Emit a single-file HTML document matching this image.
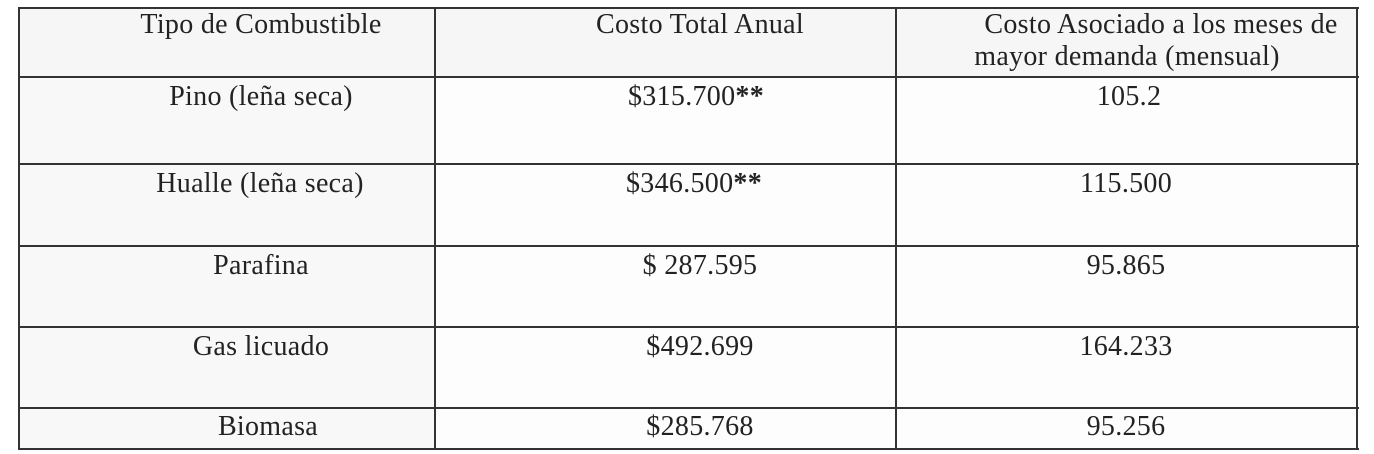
<!DOCTYPE html>
<html><head><meta charset="utf-8"><style>
body{margin:0;width:1374px;height:454px;background:#fff;position:relative;overflow:hidden;font-family:"Liberation Serif",serif;color:#222}
.h{position:absolute;background:#333}
.t{position:absolute;font-size:28px;letter-spacing:0.3px;line-height:30px;white-space:nowrap;transform:translateX(-50%)}
</style></head><body>
<div style="position:absolute;left:18px;top:7px;width:1339px;height:70px;background:#f6f6f6"></div>
<div style="position:absolute;left:18px;top:77px;width:417px;height:372px;background:#f8f8f8"></div>
<div style="position:absolute;left:435px;top:77px;width:922px;height:372px;background:#fdfdfd"></div>
<div class="h" style="left:18px;top:7px;width:1341px;height:2px"></div>
<div class="h" style="left:18px;top:76px;width:1341px;height:2px"></div>
<div class="h" style="left:18px;top:163px;width:1341px;height:2px"></div>
<div class="h" style="left:18px;top:245px;width:1341px;height:2px"></div>
<div class="h" style="left:18px;top:326px;width:1341px;height:2px"></div>
<div class="h" style="left:18px;top:407px;width:1341px;height:2px"></div>
<div class="h" style="left:18px;top:448px;width:1341px;height:2px"></div>
<div class="h" style="left:18px;top:7px;width:2px;height:443px"></div>
<div class="h" style="left:434px;top:7px;width:2px;height:443px"></div>
<div class="h" style="left:895px;top:7px;width:2px;height:443px"></div>
<div class="h" style="left:1356px;top:7px;width:2px;height:443px"></div>

<div class="t" style="left:261px;top:10px">Tipo de Combustible</div>
<div class="t" style="left:700px;top:10px">Costo Total Anual</div>
<div class="t" style="left:1161px;top:10px">Costo Asociado a los meses de</div>
<div class="t" style="left:1127px;top:42px">mayor demanda (mensual)</div>

<div class="t" style="left:261px;top:82px">Pino (leña seca)</div>
<div class="t" style="left:696px;top:82px">$315.700<b>**</b></div>
<div class="t" style="left:1129px;top:82px">105.2</div>

<div class="t" style="left:260px;top:169px">Hualle (leña seca)</div>
<div class="t" style="left:694px;top:169px">$346.500<b>**</b></div>
<div class="t" style="left:1126px;top:169px">115.500</div>

<div class="t" style="left:261px;top:251px">Parafina</div>
<div class="t" style="left:700px;top:251px">$ 287.595</div>
<div class="t" style="left:1126px;top:251px">95.865</div>

<div class="t" style="left:261px;top:332px">Gas licuado</div>
<div class="t" style="left:700px;top:332px">$492.699</div>
<div class="t" style="left:1126px;top:332px">164.233</div>

<div class="t" style="left:268px;top:412px">Biomasa</div>
<div class="t" style="left:700px;top:412px">$285.768</div>
<div class="t" style="left:1126px;top:412px">95.256</div>
</body></html>
